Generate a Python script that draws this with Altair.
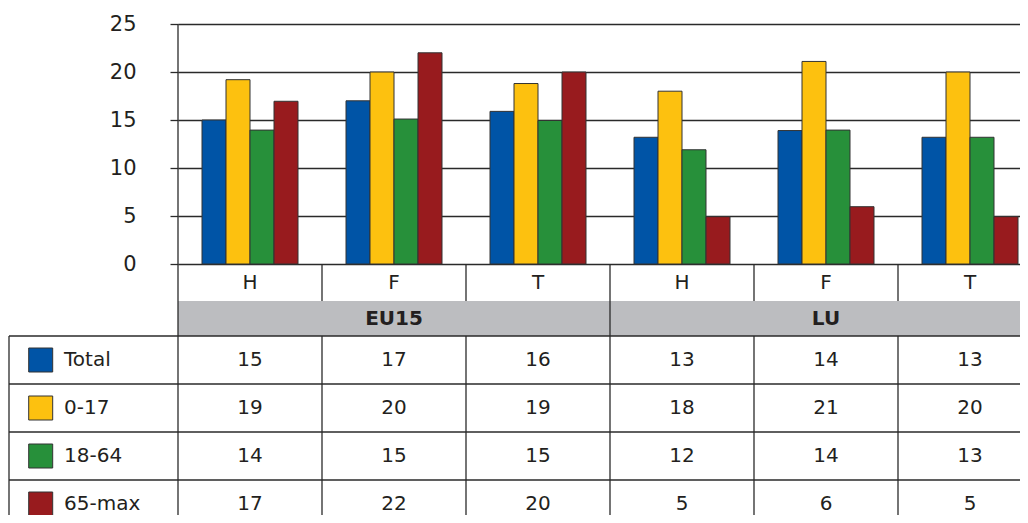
import altair as alt
import pandas as pd

# ---- data ----
groups = ["EU15", "LU"]
periods = ["H", "F", "T"]
series = ["Total", "0-17", "18-64", "65-max"]
colors = ["#0054A6", "#FDC10F", "#27903A", "#981B1E"]

# bar heights (as drawn)
bar_total = [15.0, 17.0, 15.9, 13.2, 13.9, 13.2]
bar_0_17 = [19.2, 20.0, 18.8, 18.0, 21.1, 20.0]
bar_18_64 = [13.95, 15.1, 14.95, 11.9, 13.95, 13.2]
bar_65_max = [16.95, 22.0, 20.0, 4.93, 5.97, 4.93]

# table labels
tab_total = ["15", "17", "16", "13", "14", "13"]
tab_0_17 = ["19", "20", "19", "18", "21", "20"]
tab_18_64 = ["14", "15", "15", "12", "14", "13"]
tab_65_max = ["17", "22", "20", "5", "6", "5"]

y_ticks = [0, 5, 10, 15, 20, 25]

# ---- layout ----
W, H = 842, 240
COL = 144.0
PX = H / 25.0
XDOM = [0, W / COL]
LEFT = (9 - 178) / COL
HDR_Y = -19 / PX
BAND_TOP = -37 / PX
BAND_BOT = -72 / PX
ROW_H = 48 / PX
BOTTOM = BAND_BOT - 4 * ROW_H
FONT = "DejaVu Sans"
TXT = "#231f20"
LINE = "#2a2a2a"

xs = alt.Scale(domain=XDOM, nice=False, zero=False)
ys = alt.Scale(domain=[0, 25], nice=False, zero=False)
cs = alt.Scale(domain=series, range=colors)
y_axis = alt.Axis(
    values=y_ticks, grid=True, gridColor=LINE, gridWidth=1.3,
    tickColor=LINE, tickSize=8, tickWidth=1.3, domain=False,
    labelFont=FONT, labelFontSize=21, labelColor=TXT, labelPadding=34,
    title=None)


def X(f):
    return alt.X(f, scale=xs, axis=None)


def Y(f):
    return alt.Y(f, scale=ys, axis=y_axis)


bars_all = [bar_total, bar_0_17, bar_18_64, bar_65_max]
tabs_all = [tab_total, tab_0_17, tab_18_64, tab_65_max]
cols = [(g, p) for g in groups for p in periods]

bar_rows = []
for k, s in enumerate(series):
    for c in range(len(cols)):
        bar_rows.append({"series": s, "x": c + (1 + k) / 6, "x2": c + (2 + k) / 6,
                         "v": bars_all[k][c], "z": 0})
bars_df = pd.DataFrame(bar_rows)

bars = alt.Chart(bars_df).mark_rect(stroke="#333", strokeWidth=1).encode(
    x=X("x:Q"), x2="x2:Q", y=Y("v:Q"), y2="z:Q",
    color=alt.Color("series:N", scale=cs, legend=None),
)

# table lines
rules = []
for yv in [BAND_BOT - i * ROW_H for i in range(4)]:
    rules.append({"x": LEFT, "x2": 6, "y": yv, "y2": yv})
rules.append({"x": 0, "x2": 0, "y": 25, "y2": BOTTOM})
rules.append({"x": 3, "x2": 3, "y": 0, "y2": BOTTOM})
rules.append({"x": 6, "x2": 6, "y": 0, "y2": BOTTOM})
for c in [1, 2, 4, 5]:
    rules.append({"x": c, "x2": c, "y": 0, "y2": BAND_TOP})
    rules.append({"x": c, "x2": c, "y": BAND_BOT, "y2": BOTTOM})
rules.append({"x": LEFT, "x2": LEFT, "y": BAND_BOT, "y2": BOTTOM})
rules_df = pd.DataFrame(rules)

band_df = pd.DataFrame([{"x": 0, "x2": 6, "y": BAND_TOP, "y2": BAND_BOT}])
band = alt.Chart(band_df).mark_rect(fill="#BCBDC0").encode(
    x=X("x:Q"), x2="x2:Q", y=Y("y:Q"), y2="y2:Q")

rule_layer = alt.Chart(rules_df).mark_rule(color=LINE, strokeWidth=1.3).encode(
    x=X("x:Q"), x2="x2:Q", y=Y("y:Q"), y2="y2:Q")

hdr_df = pd.DataFrame([{"t": p, "x": c + 0.5, "y": HDR_Y} for c, (g, p) in enumerate(cols)])
hdr = alt.Chart(hdr_df).mark_text(font=FONT, fontSize=20, color=TXT, baseline="middle").encode(
    x=X("x:Q"), y=Y("y:Q"), text="t:N")

grp_df = pd.DataFrame([{"t": g, "x": i * 3 + 1.5, "y": (BAND_TOP + BAND_BOT) / 2}
                       for i, g in enumerate(groups)])
grp = alt.Chart(grp_df).mark_text(font=FONT, fontSize=20, fontWeight="bold", color=TXT,
                                  baseline="middle").encode(
    x=X("x:Q"), y=Y("y:Q"), text="t:N")

cell_rows = []
for k, s in enumerate(series):
    yc = BAND_BOT - (k + 0.5) * ROW_H
    for c in range(len(cols)):
        cell_rows.append({"t": tabs_all[k][c], "x": c + 0.5, "y": yc})
cells = alt.Chart(pd.DataFrame(cell_rows)).mark_text(
    font=FONT, fontSize=20, color=TXT, baseline="middle").encode(
    x=X("x:Q"), y=Y("y:Q"), text="t:N")

leg_rows = []
for k, s in enumerate(series):
    yc = BAND_BOT - (k + 0.5) * ROW_H
    leg_rows.append({"series": s, "x": (28.7 - 178) / COL, "x2": (52.7 - 178) / COL,
                     "y": yc + 12 / PX, "y2": yc - 12 / PX,
                     "tx": (64 - 178) / COL, "ty": yc})
leg_df = pd.DataFrame(leg_rows)
leg_sq = alt.Chart(leg_df).mark_rect(stroke="#333", strokeWidth=1).encode(
    x=X("x:Q"), x2="x2:Q", y=Y("y:Q"), y2="y2:Q",
    color=alt.Color("series:N", scale=cs, legend=None))
leg_tx = alt.Chart(leg_df).mark_text(font=FONT, fontSize=20, color=TXT, align="left",
                                      baseline="middle").encode(
    x=X("tx:Q"), y=Y("ty:Q"), text="series:N")

chart = alt.layer(bars, band, rule_layer, hdr, grp, cells, leg_sq, leg_tx).properties(
    width=W, height=H,
    autosize=alt.AutoSizeParams(type="none"),
    padding={"left": 170, "top": 16, "right": 0, "bottom": 251},
    background="white",
).configure_view(stroke=None)

chart.save("out.html", embed_options={"renderer": "svg", "actions": False})
